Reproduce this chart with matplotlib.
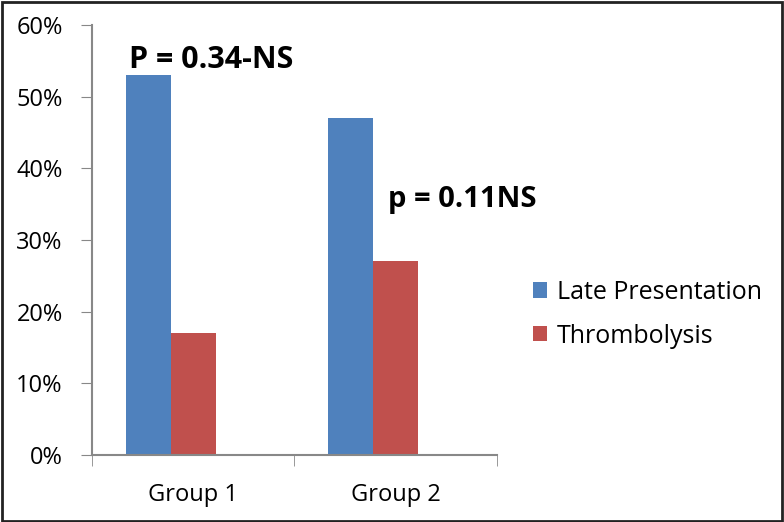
import numpy as np
import matplotlib.pyplot as plt

groups = ['Group 1', 'Group 2']
late_presentation = [53, 47]
thrombolysis = [17, 27]
y_ticks = [0, 10, 20, 30, 40, 50, 60]

plt.rcParams['font.family'] = ['Open Sans', 'DejaVu Sans']

fig = plt.figure(figsize=(7.84, 5.22), dpi=100)
ax = fig.add_axes([0.1173, 0.1284, 0.5166, 0.8238])

x = np.arange(len(groups))
w = 0.222
# Excel-style layout: bars sit left of the category centre
ax.bar(x - w, late_presentation, w, color='#4F81BD', label='Late Presentation')
ax.bar(x, thrombolysis, w, color='#C0504D', label='Thrombolysis')

ax.set_xlim(-0.5, 1.5)
ax.set_ylim(0, 60)
ax.set_yticks(y_ticks)
ax.set_yticklabels([f'{t}%' for t in y_ticks], fontsize=17)
ax.set_xticks(x)
ax.set_xticklabels(groups, fontsize=17)
ax.tick_params(axis='x', length=0, pad=20)
ax.set_xticks([-0.5, 0.5, 1.5], minor=True)
ax.tick_params(axis='x', which='minor', length=8, color='#888888', direction='out')
ax.tick_params(axis='y', length=8, color='#888888', pad=13)

for s in ['top', 'right']:
    ax.spines[s].set_visible(False)
for s in ['left', 'bottom']:
    ax.spines[s].set_color('#888888')
    ax.spines[s].set_linewidth(1.5)

# p-value annotations
ax.text(-0.315, 55.1, 'P = 0.34-NS', fontsize=22, fontweight='bold', va='center')
ax.text(0.96, 35.6, 'p = 0.11NS', fontsize=21, fontweight='bold', va='center')

fig.legend(loc='center left', bbox_to_anchor=(0.651, 0.398), frameon=False,
           fontsize=18, handlelength=0.55, handleheight=0.55, handletextpad=0.4,
           labelspacing=0.75)

# outer frame
fig.patches.append(plt.Rectangle((0.002, 0.002), 0.995, 0.995, transform=fig.transFigure,
                                 fill=False, edgecolor='#222222', linewidth=2))

fig.savefig('out.png', dpi=100)
